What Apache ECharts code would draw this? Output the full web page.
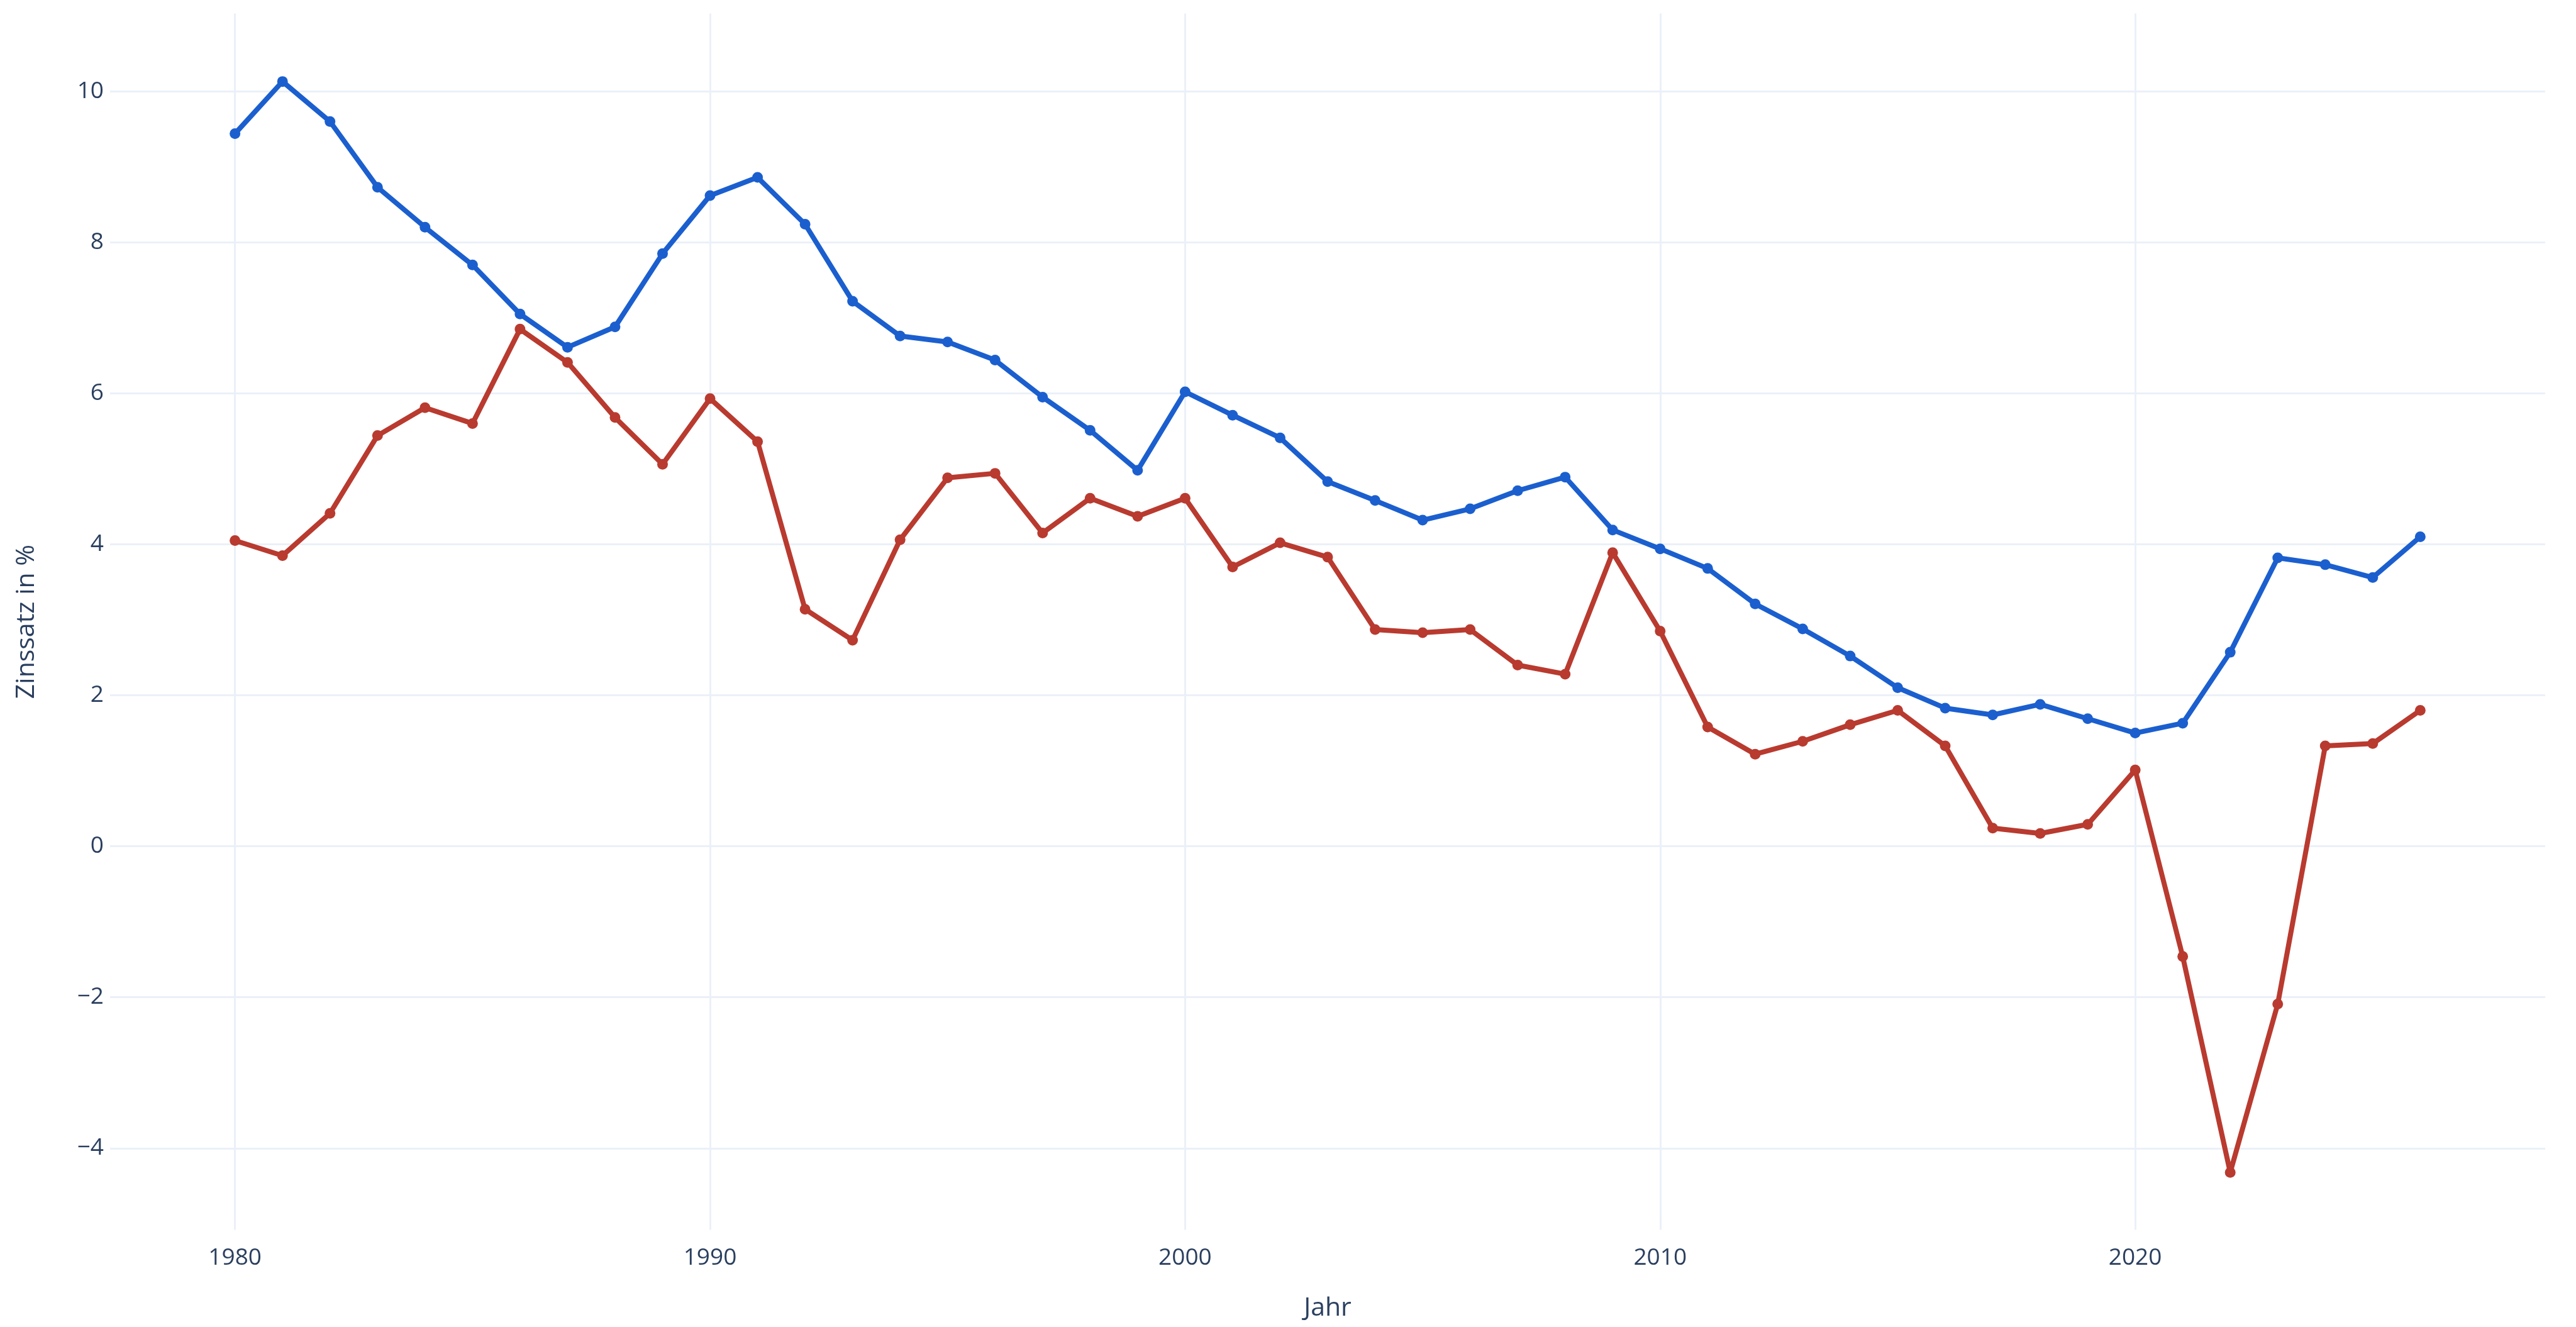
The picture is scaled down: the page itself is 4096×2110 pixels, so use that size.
<!DOCTYPE html>
<html>
<head>
<meta charset="utf-8">
<script src="https://cdn.jsdelivr.net/npm/echarts@6/dist/echarts.min.js"></script>
<style>
html,body{margin:0;padding:0;background:#fff;}
#chart{width:4096px;height:2110px;}
</style>
</head>
<body>
<div id="chart"></div>
<script>
const years = [1980,1981,1982,1983,1984,1985,1986,1987,1988,1989,1990,1991,1992,1993,1994,1995,1996,1997,1998,1999,2000,2001,2002,2003,2004,2005,2006,2007,2008,2009,2010,2011,2012,2013,2014,2015,2016,2017,2018,2019,2020,2021,2022,2023,2024,2025,2026];
const nominalRate = [9.44,10.13,9.60,8.73,8.20,7.70,7.05,6.61,6.88,7.85,8.62,8.86,8.24,7.22,6.76,6.68,6.44,5.95,5.51,4.98,6.02,5.71,5.41,4.83,4.58,4.32,4.47,4.71,4.89,4.19,3.94,3.68,3.21,2.88,2.52,2.10,1.83,1.74,1.88,1.69,1.50,1.63,2.57,3.82,3.73,3.56,4.10];
const realRate = [4.05,3.85,4.41,5.44,5.81,5.60,6.85,6.41,5.68,5.06,5.93,5.36,3.14,2.73,4.06,4.88,4.94,4.15,4.61,4.37,4.61,3.70,4.02,3.83,2.87,2.83,2.87,2.40,2.28,3.89,2.85,1.58,1.22,1.39,1.61,1.80,1.33,0.24,0.17,0.29,1.01,-1.46,-4.32,-2.09,1.33,1.36,1.80];
const xTicks = [1980,1990,2000,2010,2020];
const yTicks = [-4,-2,0,2,4,6,8,10];

const FONT = '"Open Sans", "Noto Sans", sans-serif';
const TXT = '#2a3f5f';
const GRID = '#EBF0F8';

const chart = echarts.init(document.getElementById('chart'), null, {renderer:'canvas'});
const pair = arr => years.map((y,i)=>[y, arr[i]]);

chart.setOption({
  backgroundColor:'#ffffff',
  animation:false,
  grid:{left:175, right:49, top:21.6, bottom:154.6, containLabel:false},
  xAxis:{
    type:'value', min:1977.37, max:2028.63,
    name:'Jahr', nameLocation:'middle', nameGap:104,
    nameTextStyle:{fontFamily:FONT, fontSize:41, color:TXT},
    axisLine:{show:false},
    axisTick:{show:false, customValues:xTicks},
    axisLabel:{customValues:xTicks, fontFamily:FONT, fontSize:37, color:TXT, margin:27, formatter:v=>String(v)},
    splitLine:{show:true, lineStyle:{color:GRID, width:3}}
  },
  yAxis:{
    type:'value', min:-5.08, max:11.03,
    name:'Zinssatz in %', nameLocation:'middle', nameGap:112, nameRotate:90,
    nameTextStyle:{fontFamily:FONT, fontSize:41, color:TXT},
    axisLine:{show:false},
    axisTick:{show:false, customValues:yTicks},
    axisLabel:{customValues:yTicks, fontFamily:FONT, fontSize:37, color:TXT, margin:10,
      formatter:v=> v<0 ? '\u2212'+Math.abs(v) : String(v)},
    splitLine:{show:true, lineStyle:{color:GRID, width:3}}
  },
  series:[
    {name:'Nominalzins', type:'line', data:pair(nominalRate), symbol:'circle', symbolSize:17,
     lineStyle:{color:'#1b5fcf', width:8}, itemStyle:{color:'#1b5fcf'}, z:3},
    {name:'Realzins', type:'line', data:pair(realRate), symbol:'circle', symbolSize:17,
     lineStyle:{color:'#b93a2f', width:8}, itemStyle:{color:'#b93a2f'}, z:2}
  ]
});
</script>
</body>
</html>
